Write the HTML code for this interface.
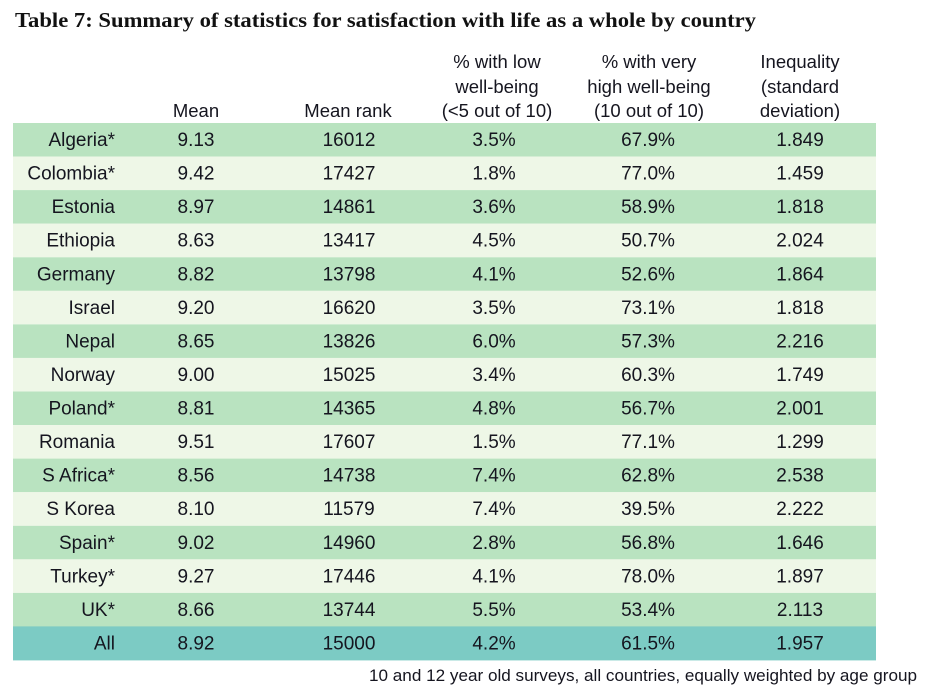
<!DOCTYPE html>
<html>
<head>
<meta charset="utf-8">
<style>
  html,body{margin:0;padding:0;background:#fff;}
  svg{display:block;}
  .t{font-family:"Liberation Sans",sans-serif;font-size:19px;fill:#15151f;}
  .h{font-family:"Liberation Sans",sans-serif;font-size:18.5px;fill:#15151f;}
</style>
</head>
<body>
<svg width="926" height="700" viewBox="0 0 926 700" xmlns="http://www.w3.org/2000/svg">
  <rect width="926" height="700" fill="#fff"/>
  <text x="15" y="27" font-family="Liberation Serif, serif" font-weight="bold" font-size="21" fill="#111" textLength="741" lengthAdjust="spacingAndGlyphs">Table 7: Summary of statistics for satisfaction with life as a whole by country</text>

  <!-- header -->
  <g class="h" text-anchor="middle">
    <text x="196" y="117">Mean</text>
    <text x="348" y="117">Mean rank</text>
    <text x="497" y="68">% with low</text>
    <text x="497" y="93">well-being</text>
    <text x="497" y="117">(&lt;5 out of 10)</text>
    <text x="649" y="68">% with very</text>
    <text x="649" y="93">high well-being</text>
    <text x="649" y="117">(10 out of 10)</text>
    <text x="800" y="68">Inequality</text>
    <text x="800" y="93">(standard</text>
    <text x="800" y="117">deviation)</text>
  </g>

  <!-- row backgrounds -->
  <g>
    <rect x="13" y="123" width="863" height="33.6" fill="#b9e3c0"/>
    <rect x="13" y="156.6" width="863" height="33.6" fill="#eef7e7"/>
    <rect x="13" y="190.1" width="863" height="33.6" fill="#b9e3c0"/>
    <rect x="13" y="223.7" width="863" height="33.6" fill="#eef7e7"/>
    <rect x="13" y="257.3" width="863" height="33.6" fill="#b9e3c0"/>
    <rect x="13" y="290.8" width="863" height="33.6" fill="#eef7e7"/>
    <rect x="13" y="324.4" width="863" height="33.6" fill="#b9e3c0"/>
    <rect x="13" y="357.9" width="863" height="33.6" fill="#eef7e7"/>
    <rect x="13" y="391.5" width="863" height="33.6" fill="#b9e3c0"/>
    <rect x="13" y="425.1" width="863" height="33.6" fill="#eef7e7"/>
    <rect x="13" y="458.6" width="863" height="33.6" fill="#b9e3c0"/>
    <rect x="13" y="492.2" width="863" height="33.6" fill="#eef7e7"/>
    <rect x="13" y="525.8" width="863" height="33.6" fill="#b9e3c0"/>
    <rect x="13" y="559.3" width="863" height="33.6" fill="#eef7e7"/>
    <rect x="13" y="592.9" width="863" height="33.6" fill="#b9e3c0"/>
    <rect x="13" y="626.4" width="863" height="34" fill="#7ccbc4"/>
  </g>

  <!-- country names -->
  <g class="t" text-anchor="end">
    <text x="115" y="146">Algeria*</text>
    <text x="115" y="179.6">Colombia*</text>
    <text x="115" y="213.1">Estonia</text>
    <text x="115" y="246.7">Ethiopia</text>
    <text x="115" y="280.3">Germany</text>
    <text x="115" y="313.8">Israel</text>
    <text x="115" y="347.4">Nepal</text>
    <text x="115" y="380.9">Norway</text>
    <text x="115" y="414.5">Poland*</text>
    <text x="115" y="448.1">Romania</text>
    <text x="115" y="481.6">S Africa*</text>
    <text x="115" y="515.2">S Korea</text>
    <text x="115" y="548.8">Spain*</text>
    <text x="115" y="582.3">Turkey*</text>
    <text x="115" y="615.9">UK*</text>
    <text x="115" y="649.4">All</text>
  </g>

  <!-- Mean -->
  <g class="t" text-anchor="middle">
    <text x="196" y="146">9.13</text>
    <text x="196" y="179.6">9.42</text>
    <text x="196" y="213.1">8.97</text>
    <text x="196" y="246.7">8.63</text>
    <text x="196" y="280.3">8.82</text>
    <text x="196" y="313.8">9.20</text>
    <text x="196" y="347.4">8.65</text>
    <text x="196" y="380.9">9.00</text>
    <text x="196" y="414.5">8.81</text>
    <text x="196" y="448.1">9.51</text>
    <text x="196" y="481.6">8.56</text>
    <text x="196" y="515.2">8.10</text>
    <text x="196" y="548.8">9.02</text>
    <text x="196" y="582.3">9.27</text>
    <text x="196" y="615.9">8.66</text>
    <text x="196" y="649.4">8.92</text>
  </g>

  <!-- Mean rank -->
  <g class="t" text-anchor="middle">
    <text x="349" y="146">16012</text>
    <text x="349" y="179.6">17427</text>
    <text x="349" y="213.1">14861</text>
    <text x="349" y="246.7">13417</text>
    <text x="349" y="280.3">13798</text>
    <text x="349" y="313.8">16620</text>
    <text x="349" y="347.4">13826</text>
    <text x="349" y="380.9">15025</text>
    <text x="349" y="414.5">14365</text>
    <text x="349" y="448.1">17607</text>
    <text x="349" y="481.6">14738</text>
    <text x="349" y="515.2">11579</text>
    <text x="349" y="548.8">14960</text>
    <text x="349" y="582.3">17446</text>
    <text x="349" y="615.9">13744</text>
    <text x="349" y="649.4">15000</text>
  </g>

  <!-- low -->
  <g class="t" text-anchor="middle">
    <text x="494" y="146">3.5%</text>
    <text x="494" y="179.6">1.8%</text>
    <text x="494" y="213.1">3.6%</text>
    <text x="494" y="246.7">4.5%</text>
    <text x="494" y="280.3">4.1%</text>
    <text x="494" y="313.8">3.5%</text>
    <text x="494" y="347.4">6.0%</text>
    <text x="494" y="380.9">3.4%</text>
    <text x="494" y="414.5">4.8%</text>
    <text x="494" y="448.1">1.5%</text>
    <text x="494" y="481.6">7.4%</text>
    <text x="494" y="515.2">7.4%</text>
    <text x="494" y="548.8">2.8%</text>
    <text x="494" y="582.3">4.1%</text>
    <text x="494" y="615.9">5.5%</text>
    <text x="494" y="649.4">4.2%</text>
  </g>

  <!-- very high -->
  <g class="t" text-anchor="middle">
    <text x="648" y="146">67.9%</text>
    <text x="648" y="179.6">77.0%</text>
    <text x="648" y="213.1">58.9%</text>
    <text x="648" y="246.7">50.7%</text>
    <text x="648" y="280.3">52.6%</text>
    <text x="648" y="313.8">73.1%</text>
    <text x="648" y="347.4">57.3%</text>
    <text x="648" y="380.9">60.3%</text>
    <text x="648" y="414.5">56.7%</text>
    <text x="648" y="448.1">77.1%</text>
    <text x="648" y="481.6">62.8%</text>
    <text x="648" y="515.2">39.5%</text>
    <text x="648" y="548.8">56.8%</text>
    <text x="648" y="582.3">78.0%</text>
    <text x="648" y="615.9">53.4%</text>
    <text x="648" y="649.4">61.5%</text>
  </g>

  <!-- inequality -->
  <g class="t" text-anchor="middle">
    <text x="800" y="146">1.849</text>
    <text x="800" y="179.6">1.459</text>
    <text x="800" y="213.1">1.818</text>
    <text x="800" y="246.7">2.024</text>
    <text x="800" y="280.3">1.864</text>
    <text x="800" y="313.8">1.818</text>
    <text x="800" y="347.4">2.216</text>
    <text x="800" y="380.9">1.749</text>
    <text x="800" y="414.5">2.001</text>
    <text x="800" y="448.1">1.299</text>
    <text x="800" y="481.6">2.538</text>
    <text x="800" y="515.2">2.222</text>
    <text x="800" y="548.8">1.646</text>
    <text x="800" y="582.3">1.897</text>
    <text x="800" y="615.9">2.113</text>
    <text x="800" y="649.4">1.957</text>
  </g>

  <text x="369" y="681" font-family="Liberation Sans, sans-serif" font-size="17" fill="#15151f" textLength="548" lengthAdjust="spacingAndGlyphs">10 and 12 year old surveys, all countries, equally weighted by age group</text>
</svg>
</body>
</html>
